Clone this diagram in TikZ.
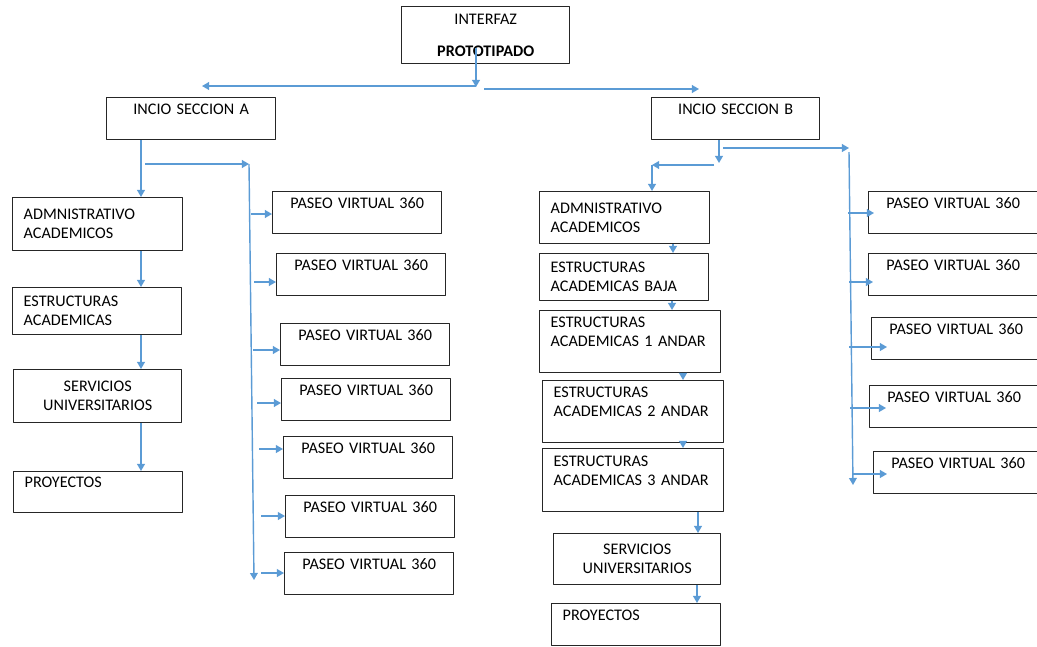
\documentclass[tikz,border=0pt]{standalone}
\usepackage{fontspec}
\setmainfont{Carlito}
\usetikzlibrary{arrows.meta}
\definecolor{linkblue}{HTML}{5B9BD5}
\definecolor{boxline}{HTML}{262626}

\begin{document}
\begin{tikzpicture}[x=0.025cm,y=-0.025cm,line join=round,
  box/.style={draw=boxline,line width=1pt,anchor=north west,inner xsep=0.275cm,inner ysep=0pt,
    text width=3.675cm,minimum height=1.05cm,align=left,font=\fontsize{11.5}{13.5}\selectfont},
  cbox/.style={box,align=center},
  link/.style={draw=linkblue,line width=1pt,-{Triangle[length=5pt,width=5.5pt]}}]
  \useasboundingbox (0,0) rectangle (1037,646);

  % ---- top ----
  \node[cbox,text width=3.65cm,minimum height=1.425cm] (interfaz) at (401,6) {INTERFAZ\\[0.32cm]\textbf{PROTOTIPADO}};
  \node[cbox] (secA) at (106,97) {INCIO SECCION A\\\mbox{}};
  \node[cbox,text width=3.65cm] (secB) at (651,97) {INCIO SECCION B\\\mbox{}};

  % ---- section A: main column ----
  \node[box,text width=3.7cm,minimum height=1.325cm] (admA) at (12,197) {ADMNISTRATIVO\\ACADEMICOS};
  \node[box,minimum height=1.175cm] (estA) at (12,287) {ESTRUCTURAS\\ACADEMICAS};
  \node[cbox,text width=3.65cm,minimum height=1.325cm] (serA) at (13,369) {SERVICIOS\\UNIVERSITARIOS};
  \node[box,minimum height=1.025cm] (proA) at (13,471) {PROYECTOS\\\mbox{}};
  % section A: virtual tours
  \foreach \i/\x/\y in {1/272/191,2/276/253,3/280/323,4/281/378,5/283/436,6/285/495,7/284/552}{
    \node[cbox] (pvA\i) at (\x,\y) {PASEO VIRTUAL 360\\\mbox{}};
  }

  % ---- section B: main column ----
  \node[box,text width=3.7cm,minimum height=1.3cm] (admB) at (539,191) {ADMNISTRATIVO\\ACADEMICOS};
  \node[box,minimum height=1.175cm] (estB0) at (539,253) {ESTRUCTURAS\\ACADEMICAS BAJA};
  \node[box,text width=3.975cm,minimum height=1.55cm] (estB1) at (539,310) {ESTRUCTURAS\\ACADEMICAS 1 ANDAR\\\mbox{}};
  \node[box,text width=3.975cm,minimum height=1.55cm] (estB2) at (542,380) {ESTRUCTURAS\\ACADEMICAS 2 ANDAR\\\mbox{}};
  \node[box,text width=3.975cm,minimum height=1.575cm] (estB3) at (542,448) {ESTRUCTURAS\\ACADEMICAS 3 ANDAR\\\mbox{}};
  \node[cbox,text width=3.625cm,minimum height=1.275cm] (serB) at (553,533) {SERVICIOS\\UNIVERSITARIOS};
  \node[box] (proB) at (551,603) {PROYECTOS\\\mbox{}};
  % section B: virtual tours
  \foreach \i/\x/\y in {1/868/191,2/868/253,3/871/317,4/869/385,5/873/451}{
    \node[cbox] (pvB\i) at (\x,\y) {PASEO VIRTUAL 360\\\mbox{}};
  }

  % ---- top split ----
  \coordinate (split) at (476,87);
  \coordinate (toA) at (202,86);
  \coordinate (toB) at (699,89);
  \draw[link] ([yshift=0.4cm]interfaz.south -| split) -- (split);
  \draw[link] (split |- toA) -- (toA);
  \draw[link] ([xshift=0.2cm]split |- toB) -- (toB);

  % ---- section A links ----
  \coordinate (downA) at (141,0);
  \draw[link] (secA.south -| downA) -- (admA.north -| downA);
  \draw[link] (admA.south -| downA) -- (estA.north -| downA);
  \draw[link] (estA.south -| downA) -- (serA.north -| downA);
  \draw[link] (serA.south -| downA) -- (proA.north -| downA);
  \coordinate (startA) at (145,164);
  \coordinate (trunkA) at (249,164);
  \coordinate (trunkAend) at (254,580);
  \draw[link] (startA) -- (trunkA);
  \draw[link] (trunkA) -- (trunkAend);
  \foreach \i/\x/\y in {1/251/214,2/254/282,3/253/350,4/257/403,5/259/449,6/261/516,7/261/573}{
    \coordinate (s) at (\x,\y);
    \draw[link] (s) -- (s -| pvA\i.west);
  }

  % ---- section B links ----
  \coordinate (splitB) at (719,163);
  \coordinate (startB) at (714,165);
  \coordinate (leftB) at (652,165);
  \draw[link] (secB.south -| splitB) -- (splitB);
  \draw[link] (startB) -- (leftB);
  \draw[link] (leftB) -- (admB.north -| leftB);
  \foreach \a/\b/\x in {admB/estB0/673,estB0/estB1/672,estB1/estB2/683,estB2/estB3/683,estB3/serB/698,serB/proB/697}{
    \coordinate (c) at (\x,0);
    \draw[link] (\a.south -| c) -- (\b.north -| c);
  }
  \coordinate (startB2) at (723,148);
  \coordinate (trunkB) at (849,148);
  \coordinate (trunkBend) at (853,485);
  \draw[link] (startB2) -- (trunkB);
  \draw[link] ([yshift=-0.1cm]trunkB) -- (trunkBend);
  \foreach \i/\x/\y/\o in {1/848/213/0.15,2/849/282/0.125,3/849/347/0.4,4/850/408/0.425,5/852/474/0.35}{
    \coordinate (s) at (\x,\y);
    \draw[link] (s) -- ([xshift=\o cm]s -| pvB\i.west);
  }
\end{tikzpicture}
\end{document}
